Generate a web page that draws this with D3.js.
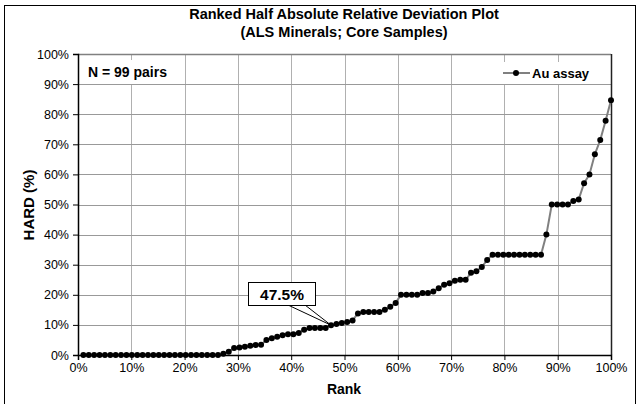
<!DOCTYPE html>
<html><head><meta charset="utf-8">
<script src="https://cdn.jsdelivr.net/npm/d3@7"></script>
<style>body{margin:0;background:#fff}svg{display:block}text{font-family:"Liberation Sans",Arial,sans-serif}</style>
</head><body><svg id="c" width="640" height="404"></svg>
<script>
const seriesName = "Au assay";
const hardValues = [
 0,0,0,0,0,0,0,0,0,0, 0,0,0,0,0,0,0,0,0,0, 0,0,0,0,0,0,0.4,1.1,2.3,2.5,
 2.7,3.1,3.3,3.4,5.0,5.6,6.1,6.6,6.9,6.9, 7.3,8.4,9.0,9.0,9.0,9.0,9.9,10.3,10.6,11.0,
 11.5,13.8,14.3,14.3,14.3,14.3,15.0,16.0,17.3,20.0, 20.0,20.0,20.0,20.6,20.6,21.1,22.2,23.3,23.8,24.7,
 25.0,25.0,27.3,27.8,29.2,31.6,33.3,33.3,33.3,33.3, 33.3,33.3,33.3,33.3,33.3,33.3,40.0,50.0,50.0,50.0,
 50.0,51.2,51.7,57.1,60.0,66.7,71.4,77.8,84.6];
const xTicks = [0,10,20,30,40,50,60,70,80,90,100];
const yTicks = [0,10,20,30,40,50,60,70,80,90,100];
const titleLines = ["Ranked Half Absolute Relative Deviation Plot","(ALS Minerals; Core Samples)"];
const nLabel = "N = 99 pairs";
const calloutRank = 47.5;
const calloutLabel = "47.5%";

const svg = d3.select("#c");
const m = {l:78, r:611, t:54, b:355};
const x = d3.scaleLinear().domain([0,100]).range([m.l,m.r]);
const y = d3.scaleLinear().domain([0,100]).range([m.b,m.t]);
const n = hardValues.length;
const pts = hardValues.map((v,i)=>({r:(i+1)/n*100, v}));

svg.append("rect").attr("x",4.5).attr("y",5.5).attr("width",631).attr("height",410)
  .attr("fill","none").attr("stroke","#000").attr("stroke-width",1);

// gridlines
svg.append("g").selectAll("line.v").data(xTicks.slice(1,-1)).join("line")
  .attr("x1",d=>Math.round(x(d))+0.5).attr("x2",d=>Math.round(x(d))+0.5)
  .attr("y1",m.t).attr("y2",m.b).attr("stroke","#b0b0b0").attr("stroke-width",1);
svg.append("g").selectAll("line.h").data(yTicks.slice(1,-1)).join("line")
  .attr("y1",d=>Math.round(y(d))+0.5).attr("y2",d=>Math.round(y(d))+0.5)
  .attr("x1",m.l).attr("x2",m.r).attr("stroke","#999").attr("stroke-width",1);
// frame
svg.append("line").attr("x1",m.l).attr("x2",m.r).attr("y1",m.t+0.5).attr("y2",m.t+0.5).attr("stroke","#808080").attr("stroke-width",1.5);
svg.append("line").attr("x1",m.r+0.5).attr("x2",m.r+0.5).attr("y1",m.t).attr("y2",m.b).attr("stroke","#222").attr("stroke-width",1.5);

// axes
const fmt = d=>d+"%";
const ya = svg.append("g").attr("transform",`translate(${m.l},0)`)
  .call(d3.axisLeft(y).tickValues(yTicks).tickFormat(fmt).tickSize(5).tickPadding(4));
const xa = svg.append("g").attr("transform",`translate(0,${m.b})`)
  .call(d3.axisBottom(x).tickValues(xTicks).tickFormat(fmt).tickSize(5).tickPadding(3));
[ya,xa].forEach(g=>{g.select(".domain").attr("stroke","#000").attr("stroke-width",1.5);
  g.selectAll(".tick line").attr("stroke","#000");
  g.selectAll("text").attr("font-size",12.5).attr("fill","#000").style("font-family","Liberation Sans, Arial, sans-serif");});

// line + markers
svg.append("path").datum(pts).attr("fill","none").attr("stroke","#808080").attr("stroke-width",2)
  .attr("d",d3.line().x(d=>x(d.r)).y(d=>y(d.v)));
svg.append("g").selectAll("circle").data(pts).join("circle")
  .attr("cx",d=>x(d.r)).attr("cy",d=>y(d.v)).attr("r",3).attr("fill","#000");

// titles
svg.append("g").selectAll("text").data(titleLines).join("text")
  .attr("x",344).attr("y",(d,i)=>19+i*18).attr("text-anchor","middle")
  .attr("font-size",14.5).attr("font-weight","bold").text(d=>d);
svg.append("text").attr("x",344).attr("y",394).attr("text-anchor","middle")
  .attr("font-size",14).attr("font-weight","bold").text("Rank");
svg.append("text").attr("transform","translate(34,205) rotate(-90)").attr("text-anchor","middle")
  .attr("font-size",15).attr("font-weight","bold").text("HARD (%)");

// N label
svg.append("rect").attr("x",84).attr("y",60).attr("width",96).attr("height",24).attr("fill","#fff");
svg.append("text").attr("x",88).attr("y",77).attr("font-size",14).attr("font-weight","bold").text(nLabel);

// legend
svg.append("rect").attr("x",498).attr("y",62).attr("width",108).attr("height",22).attr("fill","#fff");
svg.append("line").attr("x1",503).attr("x2",530).attr("y1",73).attr("y2",73).attr("stroke","#808080").attr("stroke-width",2);
svg.append("circle").attr("cx",516).attr("cy",73).attr("r",3).attr("fill","#000");
svg.append("text").attr("x",532).attr("y",77.5).attr("font-size",13).attr("font-weight","bold").text(seriesName);

// callout
const cp = pts.reduce((a,b)=>Math.abs(b.r-calloutRank)<Math.abs(a.r-calloutRank)?b:a);
const px = x(cp.r), py = y(cp.v);
svg.append("path").attr("d",`M288,305 L${px},${py} L305,305`).attr("fill","none").attr("stroke","#000").attr("stroke-width",1);
svg.append("rect").attr("x",248.5).attr("y",282.5).attr("width",67).attr("height",23).attr("fill","#fff").attr("stroke","#000").attr("stroke-width",1);
svg.append("text").attr("x",282).attr("y",299.5).attr("text-anchor","middle").attr("font-size",15.5).attr("font-weight","bold").text(calloutLabel);
</script></body></html>
